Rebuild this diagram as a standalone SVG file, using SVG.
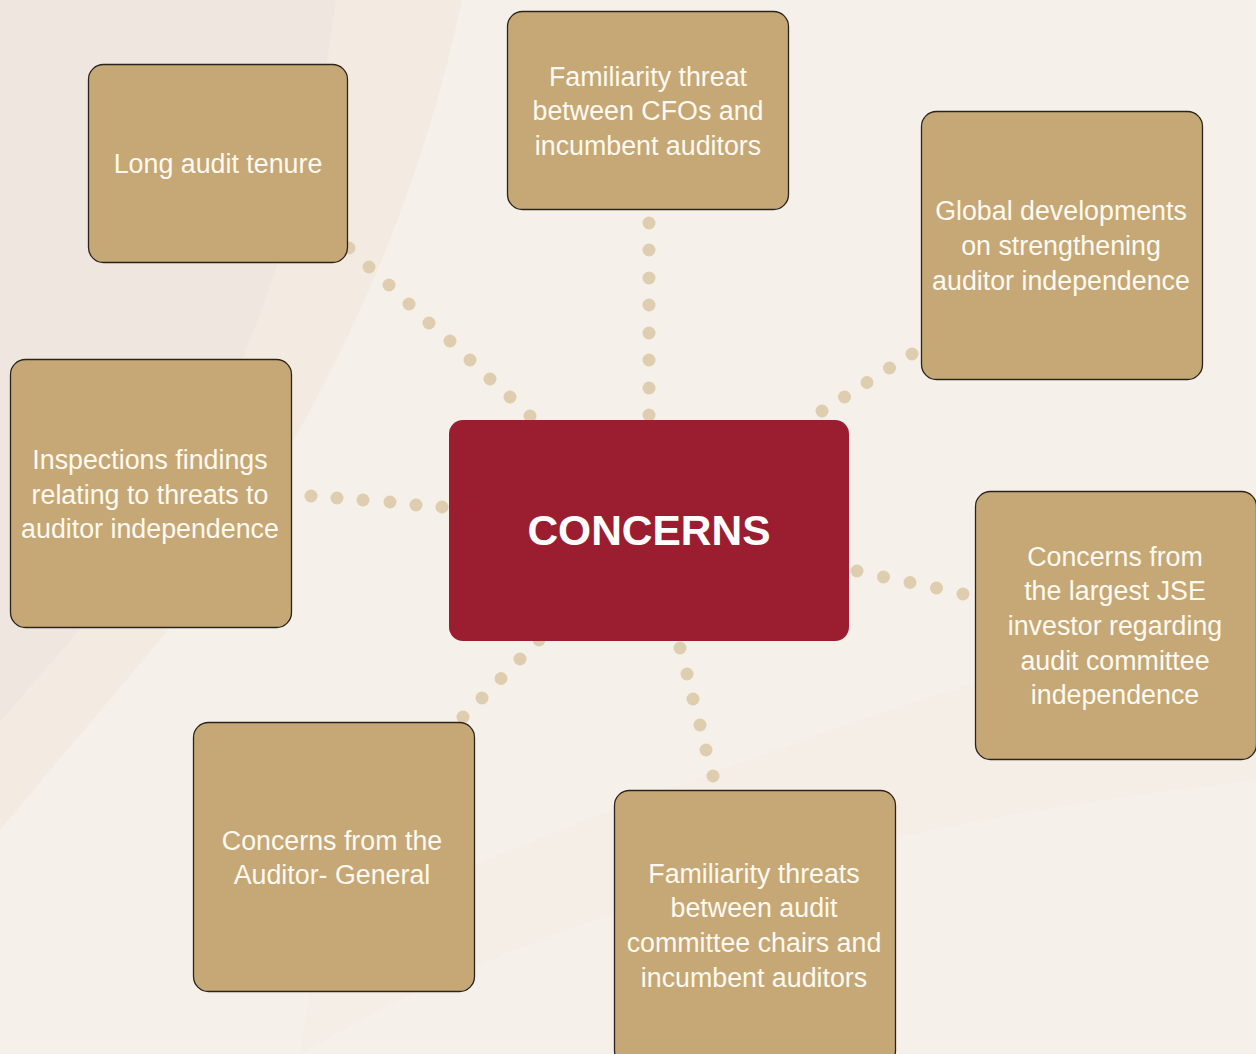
<svg xmlns="http://www.w3.org/2000/svg" width="1256" height="1054" viewBox="0 0 1256 1054">
<style>
.box{fill:#c5a876;stroke:#2a241c;stroke-width:1.3}
.lbl{font-family:"Liberation Sans",Arial,sans-serif;font-size:26.8px;fill:#fdf9f0;text-anchor:middle}
.dots circle{fill:#dfcdb0}
</style>
<rect width="1256" height="1054" fill="#f6f0ea"/>
<path d="M0 0 H462 C420 200 330 420 160 640 L0 830 Z" fill="#f3ebe2"/>
<path d="M0 0 H336 C310 200 250 380 140 560 L0 722 Z" fill="#f0e6e0"/>
<path d="M300 1054 C560 900 900 820 1256 780 V610 C1000 660 620 800 320 930 Z" fill="#f3ebe2" opacity="0.5"/>
<g id="connectors" class="dots">
<circle cx="349" cy="248" r="6.5"/><circle cx="369" cy="267" r="6.5"/><circle cx="389" cy="285" r="6.5"/><circle cx="409" cy="304" r="6.5"/><circle cx="429" cy="323" r="6.5"/><circle cx="450" cy="341" r="6.5"/><circle cx="470" cy="360" r="6.5"/><circle cx="490" cy="379" r="6.5"/><circle cx="510" cy="397" r="6.5"/><circle cx="530" cy="416" r="6.5"/>
<circle cx="649" cy="223" r="6.5"/><circle cx="649" cy="250" r="6.5"/><circle cx="649" cy="278" r="6.5"/><circle cx="649" cy="305" r="6.5"/><circle cx="649" cy="333" r="6.5"/><circle cx="649" cy="360" r="6.5"/><circle cx="649" cy="388" r="6.5"/><circle cx="649" cy="415" r="6.5"/>
<circle cx="912" cy="354" r="6.5"/><circle cx="889.5" cy="368" r="6.5"/><circle cx="867" cy="382.5" r="6.5"/><circle cx="844.5" cy="397" r="6.5"/><circle cx="822" cy="411" r="6.5"/>
<circle cx="311" cy="496" r="6.5"/><circle cx="337" cy="498" r="6.5"/><circle cx="363" cy="500" r="6.5"/><circle cx="390" cy="502" r="6.5"/><circle cx="416" cy="505" r="6.5"/><circle cx="442" cy="507" r="6.5"/>
<circle cx="857" cy="571" r="6.5"/><circle cx="883.5" cy="577" r="6.5"/><circle cx="910" cy="582.5" r="6.5"/><circle cx="936.5" cy="588" r="6.5"/><circle cx="963" cy="594" r="6.5"/>
<circle cx="463" cy="717" r="6.5"/><circle cx="482" cy="698" r="6.5"/><circle cx="501" cy="678.5" r="6.5"/><circle cx="520" cy="659" r="6.5"/><circle cx="539" cy="640" r="6.5"/>
<circle cx="680" cy="648" r="6.5"/><circle cx="687" cy="674" r="6.5"/><circle cx="693" cy="699" r="6.5"/><circle cx="700" cy="725" r="6.5"/><circle cx="706" cy="750" r="6.5"/><circle cx="713" cy="776" r="6.5"/>
</g>
<g id="n1"><rect class="box" x="88.5" y="64.5" width="259" height="198" rx="15"/><text class="lbl" x="218" y="173">Long audit tenure</text></g>
<g id="n2"><rect class="box" x="507.5" y="11.5" width="281" height="198" rx="15"/><text class="lbl" x="648" y="86">Familiarity threat</text><text class="lbl" x="648" y="120">between CFOs and</text><text class="lbl" x="648" y="155">incumbent auditors</text></g>
<g id="n3"><rect class="box" x="921.5" y="111.5" width="281" height="268" rx="15"/><text class="lbl" x="1061" y="220">Global developments</text><text class="lbl" x="1061" y="255">on strengthening</text><text class="lbl" x="1061" y="290">auditor independence</text></g>
<g id="n4"><rect class="box" x="10.5" y="359.5" width="281" height="268" rx="15"/><text class="lbl" x="150" y="469">Inspections findings</text><text class="lbl" x="150" y="504">relating to threats to</text><text class="lbl" x="150" y="538">auditor independence</text></g>
<g id="n5"><rect class="box" x="975.5" y="491.5" width="281" height="268" rx="15"/><text class="lbl" x="1115" y="566">Concerns from</text><text class="lbl" x="1115" y="600">the largest JSE</text><text class="lbl" x="1115" y="635">investor regarding</text><text class="lbl" x="1115" y="670">audit committee</text><text class="lbl" x="1115" y="704">independence</text></g>
<g id="n6"><rect class="box" x="193.5" y="722.5" width="281" height="269" rx="15"/><text class="lbl" x="332" y="850">Concerns from the</text><text class="lbl" x="332" y="884">Auditor- General</text></g>
<g id="n7"><rect class="box" x="614.5" y="790.5" width="281" height="275" rx="15"/><text class="lbl" x="754" y="883">Familiarity threats</text><text class="lbl" x="754" y="917">between audit</text><text class="lbl" x="754" y="952">committee chairs and</text><text class="lbl" x="754" y="987">incumbent auditors</text></g>
<g id="center"><rect x="449" y="420" width="400" height="221" rx="14" fill="#9b1e30"/><text x="649" y="545" font-family="Liberation Sans,Arial,sans-serif" font-size="42.5" font-weight="bold" fill="#ffffff" text-anchor="middle">CONCERNS</text></g>
</svg>
